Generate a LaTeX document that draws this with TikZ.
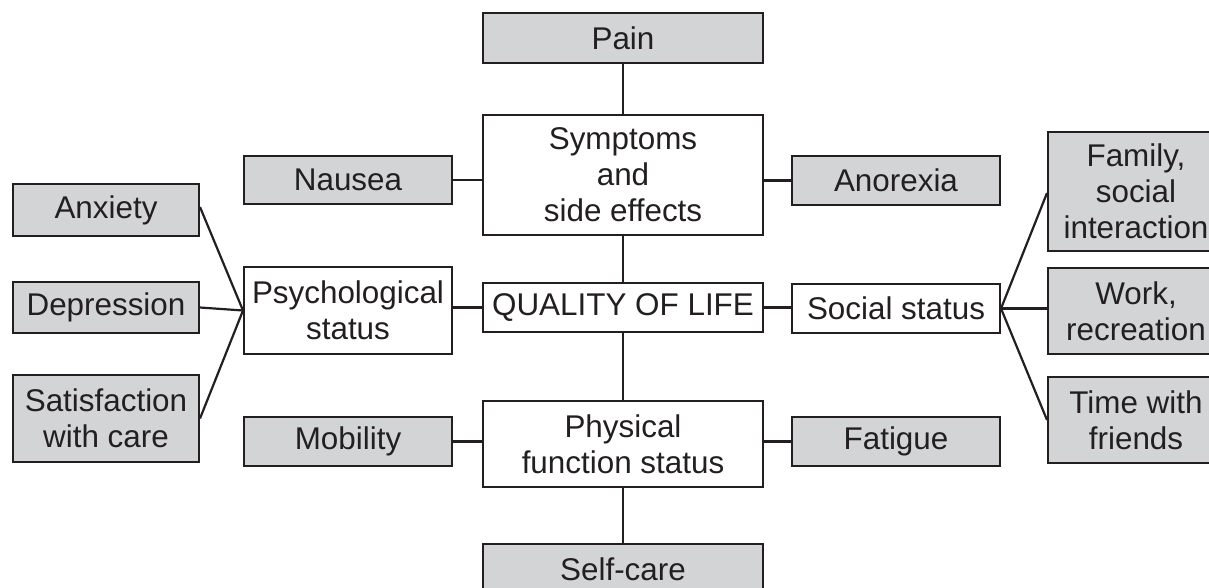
\documentclass[tikz,border=0pt]{standalone}
\usepackage{fontspec}
\setmainfont{Liberation Sans}
\definecolor{ink}{RGB}{35,31,32}
\definecolor{boxgray}{RGB}{211,212,214}
\begin{document}
\begin{tikzpicture}[x=1pt,y=-1pt,
  base/.style={draw=ink, line width=2pt, inner sep=0pt, align=center, text=ink,
     font=\fontsize{31.4}{36}\selectfont},
  grey/.style={base, fill=boxgray},
  white/.style={base, fill=white},
  link/.style={draw=ink, line width=2.2pt}]
\useasboundingbox (0,0) rectangle (1209,588);
\clip (0,0) rectangle (1209,588);
% center column
\node[grey, minimum width=280pt, minimum height=50pt] (pain) at (623,38) {Pain};
\node[white, minimum width=280pt, minimum height=120pt] (sym) at (623,175) {Symptoms\\and\\side effects};
\node[white, minimum width=280pt, minimum height=49pt] (qol) at (623,307.5) {QUALITY OF LIFE};
\node[white, minimum width=280pt, minimum height=86pt] (phys) at (623,444) {Physical\\function status};
\node[grey, minimum width=280pt, minimum height=50pt] (self) at (623,569) {Self-care};
% inner left column
\node[grey, minimum width=208pt, minimum height=48pt] (nausea) at (348,180) {Nausea};
\node[white, minimum width=208pt, minimum height=87pt] (psych) at (348,310.5) {Psychological\\status};
\node[grey, minimum width=208pt, minimum height=49pt] (mob) at (348,441.5) {Mobility};
% inner right column
\node[grey, minimum width=208pt, minimum height=49pt] (anor) at (896,180.5) {Anorexia};
\node[white, minimum width=208pt, minimum height=49pt] (social) at (896,308.5) {Social status};
\node[grey, minimum width=208pt, minimum height=49pt] (fat) at (896,441.5) {Fatigue};
% outer left column
\node[grey, minimum width=186pt, minimum height=52pt] (anx) at (106,210) {Anxiety};
\node[grey, minimum width=186pt, minimum height=51pt] (dep) at (106,307.5) {Depression};
\node[grey, minimum width=186pt, minimum height=87pt] (sat) at (106,418.5) {Satisfaction\\with care};
% outer right column
\node[grey, minimum width=176pt, minimum height=119pt] (fam) at (1136,191.5) {Family,\\social\\interaction};
\node[grey, minimum width=176pt, minimum height=86pt] (work) at (1136,311) {Work,\\recreation};
\node[grey, minimum width=176pt, minimum height=86pt] (time) at (1136,420) {Time with\\friends};
% connectors
\draw[link] (pain.south) -- (sym.north);
\draw[link] (sym.south) -- (qol.north);
\draw[link] (qol.south) -- (phys.north);
\draw[link] (phys.south) -- (self.north);
\draw[link] (nausea.east) -- (nausea.east -| sym.west);
\draw[link] (anor.west) -- (anor.west -| sym.east);
\draw[link] (mob.east) -- (mob.east -| phys.west);
\draw[link] (fat.west) -- (fat.west -| phys.east);
\draw[link] (qol.west) -- (qol.west -| psych.east);
\draw[link] (qol.east) -- (qol.east -| social.west);
\draw[link] ([yshift=3pt]anx.east) -- (psych.west);
\draw[link] (dep.east) -- (psych.west);
\draw[link] (sat.east) -- (psych.west);
\draw[link] (social.east) -- ([yshift=-1.5pt]fam.west);
\draw[link] (social.east) -- (social.east -| work.west);
\draw[link] (social.east) -- (time.west);
\end{tikzpicture}
\end{document}
